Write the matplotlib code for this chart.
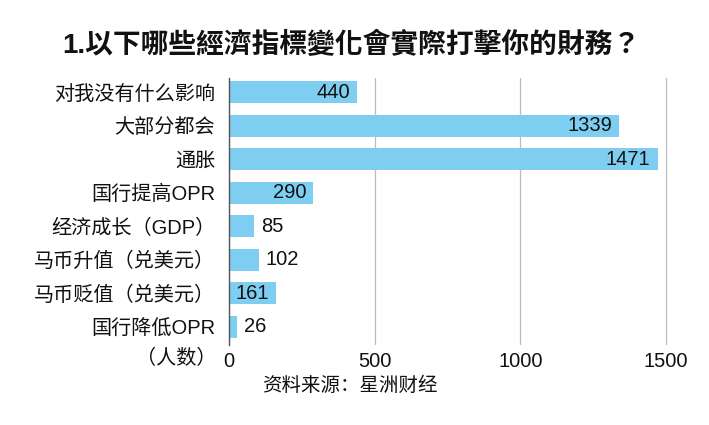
import matplotlib
matplotlib.use("Agg")
import matplotlib.pyplot as plt

categories = ["对我没有什么影响", "大部分都会", "通胀", "国行提高OPR",
              "经济成长（GDP）", "马币升值（兑美元）", "马币贬值（兑美元）", "国行降低OPR"]
values = [440, 1339, 1471, 290, 85, 102, 161, 26]
xticks = [0, 500, 1000, 1500]
title = "1.以下哪些經濟指標變化會實際打擊你的財務？"
unit_label = "（人数）"
source = "资料来源：星洲财经"

FAM = ["Liberation Sans", "Noto Sans CJK SC", "DejaVu Sans"]
plt.rcParams["font.family"] = FAM

fig = plt.figure(figsize=(7.09, 4.25), dpi=100)
px_per_unit = (666 - 229) / 1500
xmax = 1510
ax = fig.add_axes([229/709, 1-345/425, xmax*px_per_unit/709, (345-78)/425])

y = list(range(len(categories)))
ax.barh(y, values, height=0.66, color="#7ECEF2", zorder=2)
ax.set_ylim(len(categories)-0.46, -0.42)
ax.set_xlim(0, xmax)
ax.set_yticks(y)
ax.set_yticklabels(categories, fontsize=14.5, color="#111111")
ax.set_xticks(xticks)
ax.set_xticklabels([str(t) for t in xticks], fontsize=14.5, color="#111111")
ax.tick_params(axis="both", length=0)
ax.tick_params(axis="y", pad=10)
ax.tick_params(axis="x", pad=5)
for s in ["top", "right", "bottom"]:
    ax.spines[s].set_visible(False)
ax.spines["left"].set_color("#555555")
ax.spines["left"].set_linewidth(1.0)
ax.spines["left"].set_zorder(3)
ax.grid(axis="x", color="#BBBBBB", linewidth=0.9, zorder=0)
ax.set_axisbelow(True)

for yi, v in zip(y, values):
    if v >= 150:
        ax.annotate(str(v), (v, yi), xytext=(-5, 0), textcoords="offset points",
                    ha="right", va="center", fontsize=14.5, color="#111111")
    else:
        ax.annotate(str(v), (v, yi), xytext=(5, 0), textcoords="offset points",
                    ha="left", va="center", fontsize=14.5, color="#111111")

fig.text(351/709, 1-45/425, title, ha="center", va="center", fontsize=20,
         fontweight="bold", family=["Liberation Sans", "Noto Sans CJK TC", "DejaVu Sans"],
         color="#111111")
fig.text(216/709, 1-358/425, unit_label, ha="right", va="center", fontsize=14.5,
         color="#111111")
fig.text(350/709, 1-386/425, source, ha="center", va="center", fontsize=14,
         color="#111111")

fig.savefig("out.png", dpi=100, facecolor="white")
